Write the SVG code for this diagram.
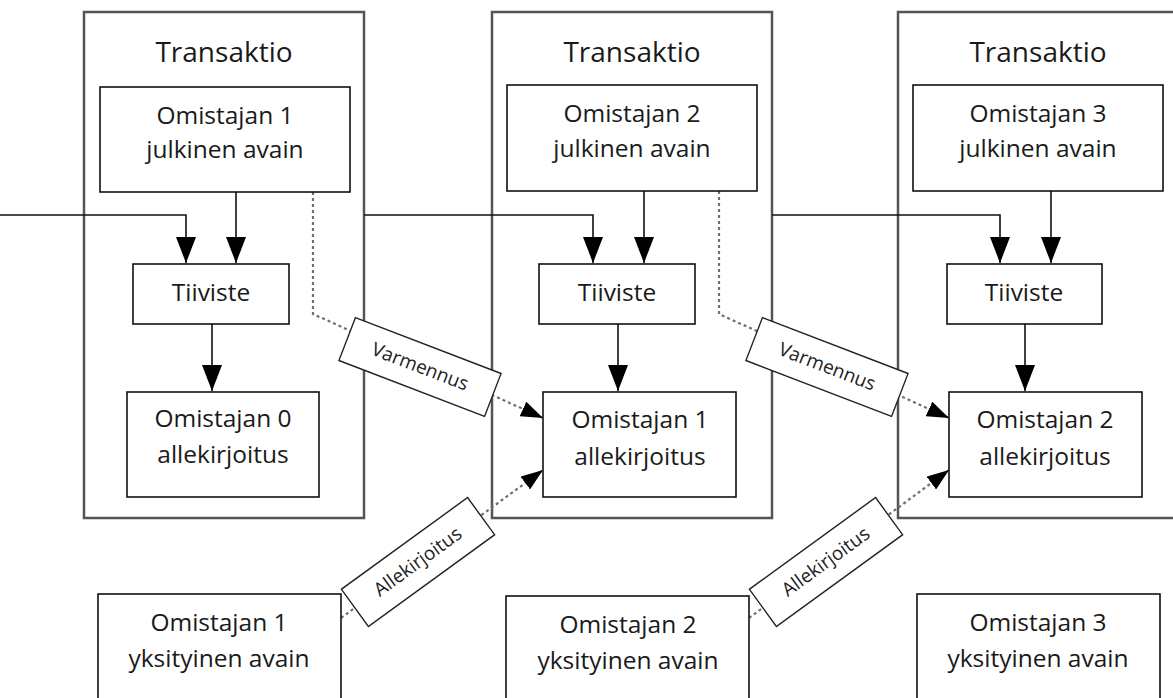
<svg xmlns="http://www.w3.org/2000/svg" width="1173" height="698" viewBox="0 0 1173 698">
<style>
.tx{fill:none;stroke:#555;stroke-width:2.5}
.box{fill:#fff;stroke:#111;stroke-width:1.6}
.lbl{fill:#fff;stroke:#222;stroke-width:1.4}
.t{font-family:"Open Sans","Noto Sans",sans-serif;font-size:24.5px;fill:#1a1a1a;text-anchor:middle}
.title{font-family:"Open Sans","Noto Sans",sans-serif;font-size:28px;fill:#1a1a1a;text-anchor:middle}
.s{font-family:"Open Sans","Noto Sans",sans-serif;font-size:19px;fill:#222;text-anchor:middle}
.solid{fill:none;stroke:#111;stroke-width:1.6}
.dash{fill:none;stroke:#707070;stroke-width:2.2;stroke-dasharray:3 3}
</style>
<defs>
<marker id="ah" markerUnits="userSpaceOnUse" markerWidth="26" markerHeight="20" refX="26" refY="10" orient="auto"><path d="M0,0 L26,10 L0,20 z" fill="#000"/></marker>
<marker id="dh" markerUnits="userSpaceOnUse" markerWidth="22" markerHeight="16" refX="22" refY="8" orient="auto"><path d="M0,0 L22,8 L0,16 z" fill="#000"/></marker>
</defs>
<rect x="0" y="0" width="1173" height="698" fill="#fff"/>

<g id="tx1"><rect class="tx" x="84" y="12" width="280" height="506"/><text class="title" x="224" y="62">Transaktio</text></g>
<g id="tx2"><rect class="tx" x="492" y="12" width="280" height="506"/><text class="title" x="632" y="62">Transaktio</text></g>
<g id="tx3"><rect class="tx" x="898" y="12" width="300" height="506"/><text class="title" x="1038" y="62">Transaktio</text></g>

<g id="connectors">
<path class="solid" d="M0 215 H186 V263" marker-end="url(#ah)"/>
<path class="solid" d="M236 192 V263" marker-end="url(#ah)"/>
<path class="solid" d="M212 324 V391" marker-end="url(#ah)"/>
<path class="solid" d="M364 215 H593 V263" marker-end="url(#ah)"/>
<path class="solid" d="M644 191 V263" marker-end="url(#ah)"/>
<path class="solid" d="M618 324 V391" marker-end="url(#ah)"/>
<path class="solid" d="M772 215 H1000 V263" marker-end="url(#ah)"/>
<path class="solid" d="M1051 191 V263" marker-end="url(#ah)"/>
<path class="solid" d="M1025 324 V391" marker-end="url(#ah)"/>
<path class="dash" d="M313 192 V314 L543 418" marker-end="url(#dh)"/>
<path class="dash" d="M719 191 V314 L949 418" marker-end="url(#dh)"/>
<path class="dash" d="M341 618 L543 470" marker-end="url(#dh)"/>
<path class="dash" d="M749 618 L949 470" marker-end="url(#dh)"/>
</g>

<g id="pub1"><rect class="box" x="100" y="87" width="250" height="105"/><text class="t" x="225" y="124">Omistajan 1</text><text class="t" x="225" y="158">julkinen avain</text></g>
<g id="hash1"><rect class="box" x="133" y="264" width="156" height="60"/><text class="t" x="211" y="301">Tiiviste</text></g>
<g id="sig0"><rect class="box" x="127" y="392" width="192" height="105"/><text class="t" x="223" y="427">Omistajan 0</text><text class="t" x="223" y="463">allekirjoitus</text></g>

<g id="pub2"><rect class="box" x="507" y="85" width="250" height="106"/><text class="t" x="632" y="122">Omistajan 2</text><text class="t" x="632" y="157">julkinen avain</text></g>
<g id="hash2"><rect class="box" x="539" y="264" width="156" height="60"/><text class="t" x="617" y="301">Tiiviste</text></g>
<g id="sig1"><rect class="box" x="543" y="392" width="193" height="105"/><text class="t" x="640" y="428">Omistajan 1</text><text class="t" x="640" y="465">allekirjoitus</text></g>

<g id="pub3"><rect class="box" x="913" y="85" width="250" height="106"/><text class="t" x="1038" y="122">Omistajan 3</text><text class="t" x="1038" y="157">julkinen avain</text></g>
<g id="hash3"><rect class="box" x="947" y="264" width="155" height="60"/><text class="t" x="1024" y="301">Tiiviste</text></g>
<g id="sig2"><rect class="box" x="949" y="392" width="193" height="105"/><text class="t" x="1045" y="428">Omistajan 2</text><text class="t" x="1045" y="465">allekirjoitus</text></g>

<g id="priv1"><rect class="box" x="98" y="594" width="243" height="120"/><text class="t" x="219" y="631">Omistajan 1</text><text class="t" x="219" y="667">yksityinen avain</text></g>
<g id="priv2"><rect class="box" x="506" y="596" width="243" height="120"/><text class="t" x="628" y="633">Omistajan 2</text><text class="t" x="628" y="669">yksityinen avain</text></g>
<g id="priv3"><rect class="box" x="917" y="594" width="243" height="120"/><text class="t" x="1038" y="631">Omistajan 3</text><text class="t" x="1038" y="667">yksityinen avain</text></g>

<g id="lbl-varm1" transform="translate(420 367) rotate(21)"><rect class="lbl" x="-78" y="-23" width="156" height="46"/><text class="s" x="0" y="6">Varmennus</text></g>
<g id="lbl-varm2" transform="translate(827 367) rotate(21)"><rect class="lbl" x="-78" y="-23" width="156" height="46"/><text class="s" x="0" y="6">Varmennus</text></g>
<g id="lbl-alle1" transform="translate(418 562) rotate(-36)"><rect class="lbl" x="-78" y="-23" width="156" height="46"/><text class="s" x="0" y="6">Allekirjoitus</text></g>
<g id="lbl-alle2" transform="translate(826 562) rotate(-36)"><rect class="lbl" x="-78" y="-23" width="156" height="46"/><text class="s" x="0" y="6">Allekirjoitus</text></g>
</svg>
